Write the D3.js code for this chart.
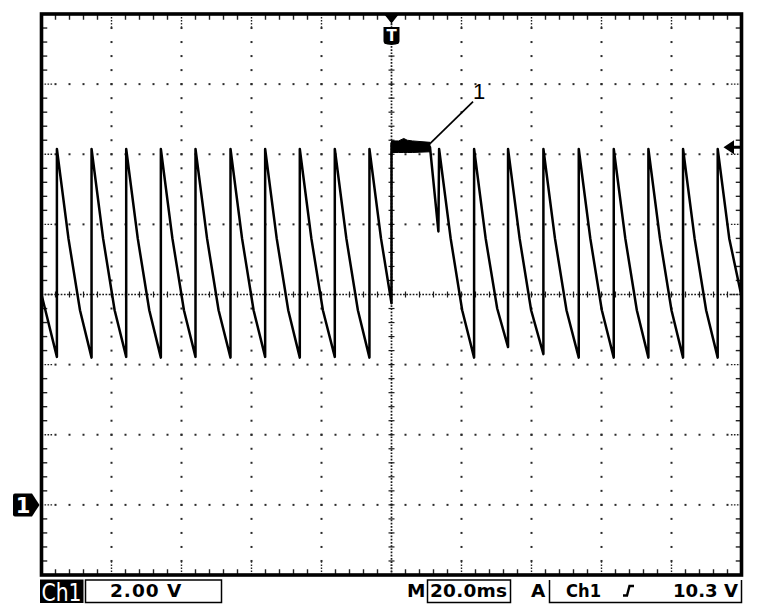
<!DOCTYPE html>
<html><head><meta charset="utf-8">
<script src="https://cdn.jsdelivr.net/npm/d3@7"></script>
<style>html,body{margin:0;padding:0;background:#fff;} svg{display:block}</style>
</head><body>
<svg id="c" width="758" height="614"></svg>
<script>
// ---------- data ----------
const timeDomain = [-100, 100];      // ms, 20.0 ms/div, trigger at 0
const voltDomain = [-2, 14];         // V, 2.00 V/div, ground at 0 V
const majorTimes = [-80, -60, -40, -20, 20, 40, 60, 80];
const majorVolts = [0, 2, 4, 8, 10, 12];
const centerTime = 0;
const centerVolt = 6;

// Ch1 waveform vertices (time ms, volts)
const waveTime = [
  -100, -95.6,
  -95.6, -92.3, -89.0, -85.7,
  -85.7, -82.4, -79.1, -75.8,
  -75.8, -72.5, -69.2, -65.9,
  -65.9, -62.6, -59.3, -56.0,
  -56.0, -52.7, -49.4, -46.0,
  -46.0, -42.7, -39.4, -36.1,
  -36.1, -32.8, -29.5, -26.2,
  -26.2, -22.9, -19.6, -16.2,
  -16.2, -12.9, -9.6, -6.3,
  -6.3, -3.0, 0,
  0, 11.0, 13.4,
  13.6, 16.9, 20.2, 23.6,
  23.6, 26.9, 30.2, 33.3,
  33.3, 36.6, 39.9, 43.4,
  43.4, 46.7, 50.0, 53.5,
  53.5, 56.8, 60.1, 63.5,
  63.5, 66.8, 70.1, 73.4,
  73.4, 76.7, 80.0, 83.3,
  83.3, 86.6, 89.9, 93.2,
  93.2, 96.5, 100
];
const waveVolt = [
  6.0, 4.22,
  10.15, 7.6, 5.55, 4.2,
  10.15, 7.6, 5.55, 4.22,
  10.15, 7.6, 5.55, 4.2,
  10.15, 7.6, 5.55, 4.22,
  10.15, 7.6, 5.55, 4.2,
  10.15, 7.6, 5.55, 4.22,
  10.15, 7.6, 5.55, 4.2,
  10.15, 7.6, 5.55, 4.22,
  10.15, 7.6, 5.55, 4.2,
  10.15, 7.6, 5.75,
  10.3, 10.2, 7.8,
  10.15, 7.6, 5.55, 4.2,
  10.15, 7.6, 5.6, 4.5,
  10.15, 7.6, 5.55, 4.3,
  10.15, 7.6, 5.55, 4.2,
  10.15, 7.6, 5.55, 4.2,
  10.15, 7.6, 5.55, 4.2,
  10.15, 7.6, 5.55, 4.2,
  10.15, 7.6, 5.55, 4.2,
  10.15, 7.6, 5.95
];
// noisy burst right after trigger (envelope)
const burstTime = [0, 2.0, 3.5, 4.5, 6.0, 11.0];
const burstHigh = [10.38, 10.38, 10.45, 10.4, 10.38, 10.34];
const burstLow  = [10.05, 10.05, 10.05, 10.05, 10.05, 10.07];

const groundLevel = 0;         // V  (channel marker "1")
const triggerMarkLevel = 10.2; // V  (trigger level arrow)
const annotationLabel = "1";
const annotationFrom = [11.0, 10.3];
const annotationTo = [23.3, 11.5];

const chLabel = "Ch1";
const voltsPerDiv = "2.00 V";
const timebaseLabel = "M";
const timebase = "20.0ms";
const trigModeLabel = "A";
const trigSource = "Ch1";
const trigLevelText = "10.3 V";

// ---------- drawing ----------
const svg = d3.select("#c");
const L = 41.5, R = 741.5, T = 14, B = 575;
const x = d3.scaleLinear().domain(timeDomain).range([L, R]);
const y = d3.scaleLinear().domain(voltDomain).range([B, T]);
const minorT = d3.range(timeDomain[0], timeDomain[1] + 0.001, 4);
const minorV = d3.range(voltDomain[0], voltDomain[1] + 0.001, 0.4);

svg.append("rect").attr("width", 758).attr("height", 614).attr("fill", "#fff");

const grid = svg.append("g").attr("fill", "#2a2a2a");
majorTimes.forEach(t => {
  minorV.forEach(v => {
    if (v <= voltDomain[0] + 0.01 || v >= voltDomain[1] - 0.01) return;
    grid.append("rect").attr("x", x(t) - 1).attr("y", y(v) - 1).attr("width", 2).attr("height", 2);
  });
});
majorVolts.forEach(v => {
  minorT.forEach(t => {
    if (t <= timeDomain[0] + 0.01 || t >= timeDomain[1] - 0.01) return;
    grid.append("rect").attr("x", x(t) - 1).attr("y", y(v) - 1).attr("width", 2).attr("height", 2);
  });
});

// center cross (dotted with minor ticks)
const cg = svg.append("g").attr("stroke", "#1a1a1a").attr("fill", "none");
cg.append("line").attr("x1", L).attr("x2", R).attr("y1", y(centerVolt)).attr("y2", y(centerVolt))
  .attr("stroke-width", 1.7).attr("stroke-dasharray", "1.7,1.5");
cg.append("line").attr("y1", T).attr("y2", B).attr("x1", x(centerTime)).attr("x2", x(centerTime))
  .attr("stroke-width", 1.7).attr("stroke-dasharray", "1.7,1.5");
minorT.forEach(t => {
  cg.append("line").attr("x1", x(t)).attr("x2", x(t)).attr("y1", y(centerVolt) - 3).attr("y2", y(centerVolt) + 3).attr("stroke-width", 1.2);
});
minorV.forEach(v => {
  cg.append("line").attr("y1", y(v)).attr("y2", y(v)).attr("x1", x(centerTime) - 3).attr("x2", x(centerTime) + 3).attr("stroke-width", 1.2);
});

// border ticks
const bt = svg.append("g").attr("stroke", "#222").attr("stroke-width", 1.4);
minorT.forEach(t => {
  const major = majorTimes.includes(t) || t === centerTime;
  const len = major ? 11 : 4;
  bt.append("line").attr("x1", x(t)).attr("x2", x(t)).attr("y1", T).attr("y2", T + 1.75 + len)
    .attr("stroke-dasharray", major ? "1.6,1.4" : null);
  bt.append("line").attr("x1", x(t)).attr("x2", x(t)).attr("y1", B).attr("y2", B - 1.75 - len)
    .attr("stroke-dasharray", major ? "1.6,1.4" : null);
});
minorV.forEach(v => {
  const major = majorVolts.includes(+v.toFixed(2)) || Math.abs(v - centerVolt) < 0.01;
  const len = major ? 9 : 4;
  bt.append("line").attr("y1", y(v)).attr("y2", y(v)).attr("x1", L).attr("x2", L + 1.75 + len)
    .attr("stroke-dasharray", major ? "1.6,1.4" : null);
  bt.append("line").attr("y1", y(v)).attr("y2", y(v)).attr("x1", R).attr("x2", R - 1.75 - len)
    .attr("stroke-dasharray", major ? "1.6,1.4" : null);
});

// waveform
const pts = waveTime.map((t, i) => [t, waveVolt[i]]);
const line = d3.line().x(d => x(d[0])).y(d => y(d[1]));
svg.append("path").datum(pts).attr("d", line)
  .attr("fill", "none").attr("stroke", "#000").attr("stroke-width", 2.5).attr("stroke-linejoin", "round");

// burst envelope
const burst = burstTime.map((t, i) => ({ t, hi: burstHigh[i], lo: burstLow[i] }));
svg.append("path").datum(burst)
  .attr("d", d3.area().x(d => x(d.t)).y0(d => y(d.lo)).y1(d => y(d.hi)))
  .attr("fill", "#000").attr("stroke", "#000").attr("stroke-width", 1);

// frame
svg.append("rect").attr("x", L).attr("y", T).attr("width", R - L).attr("height", B - T)
  .attr("fill", "none").attr("stroke", "#000").attr("stroke-width", 3.6);

// annotation leader + label
svg.append("line")
  .attr("x1", x(annotationFrom[0])).attr("y1", y(annotationFrom[1]))
  .attr("x2", x(annotationTo[0])).attr("y2", y(annotationTo[1]))
  .attr("stroke", "#000").attr("stroke-width", 1.7);
svg.append("text").attr("x", x(annotationTo[0])).attr("y", y(annotationTo[1]) - 3)
  .attr("font-family", "Liberation Sans, Arial, sans-serif").attr("font-size", 22)
  .text(annotationLabel);

// trigger position marker "T"
const tx = x(centerTime);
svg.append("path").attr("d", `M${tx - 7.5},${T} L${tx + 7.5},${T} L${tx},${T + 9.5} Z`).attr("fill", "#000");
svg.append("path")
  .attr("d", `M${tx - 8},${T + 13} L${tx + 8},${T + 13} L${tx + 8},${T + 27} Q${tx + 8},${T + 30} ${tx + 4},${T + 30.5} L${tx},${T + 31} L${tx - 4},${T + 30.5} Q${tx - 8},${T + 30} ${tx - 8},${T + 27} Z`)
  .attr("fill", "#000");
svg.append("text").attr("x", tx).attr("y", T + 27).attr("text-anchor", "middle")
  .attr("font-family", "DejaVu Sans, sans-serif").attr("font-weight", "bold").attr("font-size", 15)
  .attr("fill", "#fff").text("T");

// ground marker "1"
const gy = y(groundLevel);
svg.append("path")
  .attr("d", `M15,${gy - 11.5} L32,${gy - 11.5} L39.5,${gy} L32,${gy + 11.5} L15,${gy + 11.5} Q13,${gy + 11.5} 13,${gy + 9.5} L13,${gy - 9.5} Q13,${gy - 11.5} 15,${gy - 11.5} Z`)
  .attr("fill", "#000");
svg.append("text").attr("x", 23).attr("y", gy + 8).attr("text-anchor", "middle")
  .attr("font-family", "DejaVu Sans, sans-serif").attr("font-weight", "bold").attr("font-size", 21)
  .attr("fill", "#fff").text("1");

// trigger level arrow (right)
const ty = y(triggerMarkLevel);
svg.append("path")
  .attr("d", `M723.5,${ty} L734,${ty - 7} L734,${ty - 1.6} L741,${ty - 1.6} L741,${ty + 1.6} L734,${ty + 1.6} L734,${ty + 7} Z`)
  .attr("fill", "#000");

// ---------- status bar ----------
const font = "DejaVu Sans, sans-serif";
svg.append("rect").attr("x", 40).attr("y", 579.5).attr("width", 43.5).attr("height", 23.5).attr("fill", "#000");
svg.append("text").attr("x", 41.5).attr("y", 601).attr("fill", "#fff")
  .attr("font-family", "DejaVu Sans Condensed, DejaVu Sans, sans-serif").attr("font-size", 25)
  .attr("textLength", 40).attr("lengthAdjust", "spacingAndGlyphs").text(chLabel);

svg.append("rect").attr("x", 85.5).attr("y", 580).attr("width", 136).attr("height", 22.5)
  .attr("fill", "none").attr("stroke", "#000").attr("stroke-width", 1.5);
svg.append("text").attr("x", 110).attr("y", 597).attr("font-family", font).attr("font-weight", "bold")
  .attr("font-size", 18.5).attr("letter-spacing", 1).text(voltsPerDiv);

svg.append("text").attr("x", 407).attr("y", 597).attr("font-family", font).attr("font-weight", "bold")
  .attr("font-size", 18.5).text(timebaseLabel);
svg.append("rect").attr("x", 427.5).attr("y", 580).attr("width", 83).attr("height", 22.5)
  .attr("fill", "none").attr("stroke", "#000").attr("stroke-width", 1.5);
svg.append("text").attr("x", 430).attr("y", 597).attr("font-family", font).attr("font-weight", "bold")
  .attr("font-size", 18.5).attr("textLength", 77).attr("lengthAdjust", "spacing").text(timebase);

svg.append("text").attr("x", 531).attr("y", 597).attr("font-family", font).attr("font-weight", "bold")
  .attr("font-size", 18.5).text(trigModeLabel);
svg.append("path").attr("d", "M549.5,580 L549.5,602.5 L741.5,602.5 L741.5,580")
  .attr("fill", "none").attr("stroke", "#000").attr("stroke-width", 1.5);
svg.append("text").attr("x", 566).attr("y", 597).attr("font-family", font).attr("font-weight", "bold")
  .attr("font-size", 18.5).attr("textLength", 35).attr("lengthAdjust", "spacingAndGlyphs").text(trigSource);
// rising-edge slope symbol
svg.append("path").attr("d", "M623,595.5 L627,595.5 L629.5,586 L634,586")
  .attr("fill", "none").attr("stroke", "#000").attr("stroke-width", 2.4);
svg.append("text").attr("x", 738).attr("y", 597).attr("text-anchor", "end").attr("font-family", font)
  .attr("font-weight", "bold").attr("font-size", 18.5).attr("textLength", 65).attr("lengthAdjust", "spacingAndGlyphs")
  .text(trigLevelText);
</script>
</body></html>
